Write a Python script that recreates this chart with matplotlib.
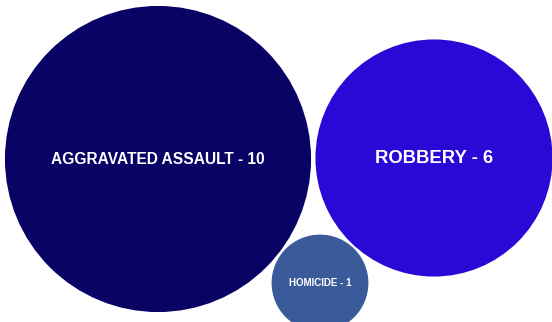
import matplotlib

matplotlib.use("Agg")
import matplotlib.pyplot as plt
import numpy as np
from matplotlib.patches import Circle

# data
categories = ["AGGRAVATED ASSAULT", "ROBBERY", "HOMICIDE"]
counts = [10, 6, 1]

# layout (pixel space of the 552x322 canvas)
centers_x = [158, 434, 320]
centers_y = [159, 158, 283]
colors = ["#0a0366", "#2a08d6", "#3b5a9a"]
font_sizes = [11.2, 13.3, 7]
scale = 48.4  # radius = scale * sqrt(count)

fig = plt.figure(figsize=(5.52, 3.22), dpi=100)
ax = fig.add_axes([0, 0, 1, 1])
ax.set_xlim(0, 552)
ax.set_ylim(322, 0)
ax.set_aspect("equal")
ax.axis("off")

for name, n, cx, cy, col, fs in zip(categories, counts, centers_x, centers_y, colors, font_sizes):
    r = scale * np.sqrt(n)
    ax.add_patch(Circle((cx, cy), r, facecolor=col, edgecolor="none"))
    ax.text(cx, cy, f"{name} - {n}", color="white", fontsize=fs, fontweight="bold",
            family=["Liberation Sans", "DejaVu Sans"], ha="center", va="center")

fig.savefig("out.png", dpi=100)
